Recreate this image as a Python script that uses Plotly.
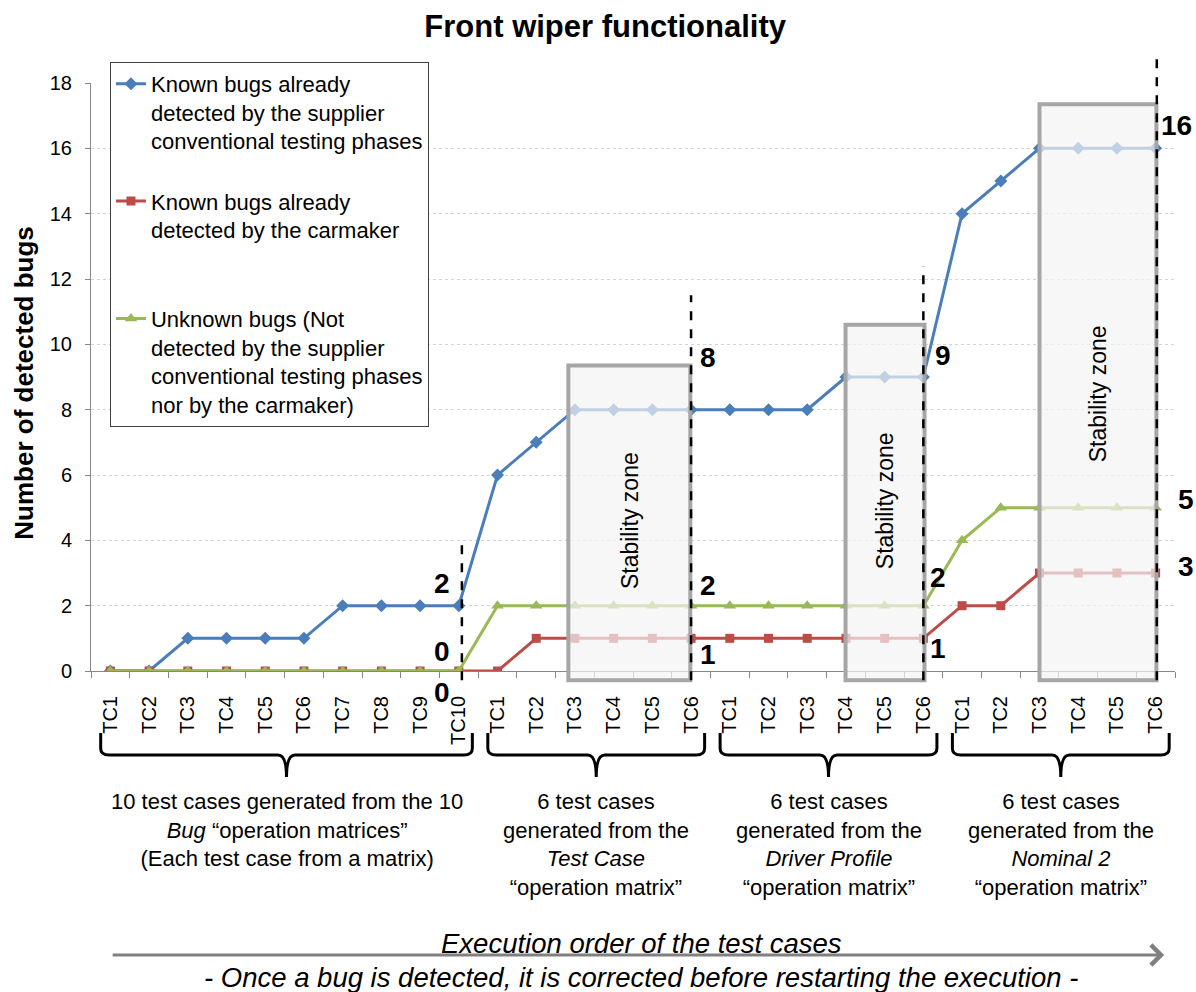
import plotly.graph_objects as go

# ---------------- data ----------------
tick_labels = ["TC1", "TC2", "TC3", "TC4", "TC5", "TC6", "TC7", "TC8", "TC9", "TC10",
               "TC1", "TC2", "TC3", "TC4", "TC5", "TC6",
               "TC1", "TC2", "TC3", "TC4", "TC5", "TC6",
               "TC1", "TC2", "TC3", "TC4", "TC5", "TC6"]
known_supplier = [0, 0, 1, 1, 1, 1, 2, 2, 2, 2,
                  6, 7, 8, 8, 8, 8,
                  8, 8, 8, 9, 9, 9,
                  14, 15, 16, 16, 16, 16]
known_carmaker = [0, 0, 0, 0, 0, 0, 0, 0, 0, 0,
                  0, 1, 1, 1, 1, 1,
                  1, 1, 1, 1, 1, 1,
                  2, 2, 3, 3, 3, 3]
unknown_bugs = [0, 0, 0, 0, 0, 0, 0, 0, 0, 0,
                2, 2, 2, 2, 2, 2,
                2, 2, 2, 2, 2, 2,
                4, 5, 5, 5, 5, 5]
group_sizes = [10, 6, 6, 6]
group_texts = [
    "10 test cases generated from the 10<br><i>Bug</i> \u201coperation matrices\u201d<br>(Each test case from a matrix)",
    "6 test cases<br>generated from the<br><i>Test Case</i><br>\u201coperation matrix\u201d",
    "6 test cases<br>generated from the<br><i>Driver Profile</i><br>\u201coperation matrix\u201d",
    "6 test cases<br>generated from the<br><i>Nominal 2</i><br>\u201coperation matrix\u201d",
]
series_names = [
    "Known bugs already<br>detected by the supplier<br>conventional testing phases<br> ",
    "Known bugs already<br>detected by the carmaker<br> <br> ",
    "Unknown bugs (Not<br>detected by the supplier<br>conventional testing phases<br>nor by the carmaker)",
]

# ---------------- styling ----------------
FONT = "Liberation Sans, Arial, sans-serif"
BLUE = "#4a7ebb"
RED = "#be4b48"
GREEN = "#98b954"
AXIS = "#868686"
YMAX = 18
N = len(tick_labels)

x = list(range(N))

fig = go.Figure()
fig.add_trace(go.Scatter(x=x, y=known_supplier, mode="lines+markers", name=series_names[0],
                         line=dict(color=BLUE, width=3),
                         marker=dict(symbol="diamond", size=10, color=BLUE)))
fig.add_trace(go.Scatter(x=x, y=known_carmaker, mode="lines+markers", name=series_names[1],
                         line=dict(color=RED, width=3),
                         marker=dict(symbol="square", size=9, color=RED)))
fig.add_trace(go.Scatter(x=x, y=unknown_bugs, mode="lines+markers", name=series_names[2],
                         line=dict(color=GREEN, width=3),
                         marker=dict(symbol="triangle-up", size=11, color=GREEN)))


def vp(v):
    """value -> paper y"""
    return v / YMAX


def xp(i):
    """category index -> paper x"""
    return (i + 0.5) / N


shapes = []
annotations = []

# stability zones (x0, x1, top value, text y)
zones = [(11.83, 14.98, 9.35, 4.6), (18.99, 21.03, 10.6, 5.2), (24.0, 27.02, 17.35, 8.5)]
for x0, x1, top, ty in zones:
    shapes.append(dict(type="rect", xref="x", yref="paper", x0=x0, x1=x1,
                       y0=vp(-0.28), y1=vp(top),
                       fillcolor="rgba(243,243,243,0.70)",
                       line=dict(color="#a6a6a6", width=4), layer="above"))
    annotations.append(dict(x=(x0 + x1) / 2, y=ty, xref="x", yref="y", text="Stability zone",
                            textangle=-90, showarrow=False, xanchor="center", yanchor="middle",
                            font=dict(family=FONT, size=23, color="#000")))

# dashed separators at group ends
dash_lines = [(9.08, 4.1), (15.0, 11.5), (21.0, 12.4), (27.03, 18.85)]
for xd, top in dash_lines:
    shapes.append(dict(type="line", xref="x", yref="paper", x0=xd, x1=xd,
                       y0=vp(-0.28), y1=vp(top),
                       line=dict(color="black", width=2.5, dash="dash"), layer="above"))

# braces under groups
ytop, ymid, ytip = -0.1054, -0.1429, -0.1803
d = 0.011
r = 0.22
start = 0
for gi, n in enumerate(group_sizes):
    first, last = start, start + n - 1
    x0 = first - 0.25
    x1 = last + 0.35
    xc = (x0 + x1) / 2
    path = (f"M{x0},{ytop} L{x0},{ymid + d} Q{x0},{ymid} {x0 + r},{ymid} "
            f"L{xc - r},{ymid} Q{xc},{ymid} {xc},{ytip} "
            f"Q{xc},{ymid} {xc + r},{ymid} "
            f"L{x1 - r},{ymid} Q{x1},{ymid} {x1},{ymid + d} L{x1},{ytop}")
    shapes.append(dict(type="path", xref="x", yref="paper", path=path,
                       line=dict(color="black", width=3)))
    annotations.append(dict(x=xc, y=-0.198, xref="x", yref="paper", yanchor="top",
                            xanchor="center",
                            text=group_texts[gi], showarrow=False, align="center",
                            font=dict(family=FONT, size=22, color="#000")))
    start += n

# value labels at group ends: (series, index, dx, dy)
series = [known_supplier, known_carmaker, unknown_bugs]
labels = [
    (0, 9, -0.43, 0.69), (2, 9, -0.43, 0.61), (1, 9, -0.43, -0.67),
    (0, 15, 0.43, 1.6), (2, 15, 0.43, 0.63), (1, 15, 0.43, -0.51),
    (0, 21, 0.5, 0.67), (2, 21, 0.37, 0.85), (1, 21, 0.37, -0.3),
    (0, 27, 0.55, 0.7), (2, 27, 0.78, 0.26), (1, 27, 0.78, 0.2),
]
for si, idx, dx, dy in labels:
    v = series[si][idx]
    annotations.append(dict(x=xp(idx + dx), y=vp(v + dy), xref="paper", yref="paper",
                            xanchor="center", yanchor="middle",
                            text=f"<b>{v}</b>", showarrow=False,
                            font=dict(family=FONT, size=28, color="#000")))

# y axis title
annotations.append(dict(x=-0.062, y=0.49, xref="paper", yref="paper",
                        xanchor="center", yanchor="middle",
                        text="<b>Number of detected bugs</b>", textangle=-90, showarrow=False,
                        font=dict(family=FONT, size=26, color="#000")))

# execution arrow + texts
annotations.append(dict(x=0.99, y=-0.483, xref="paper", yref="paper",
                        ax=-1053, ay=0, axref="pixel", ayref="pixel", text="",
                        showarrow=True, arrowhead=4, arrowsize=1.3, arrowwidth=3,
                        arrowcolor="#808080"))
annotations.append(dict(x=0.5074, y=-0.4626, xref="paper", yref="paper",
                        xanchor="center", yanchor="middle",
                        text="<i>Execution order of the test cases</i>", showarrow=False,
                        font=dict(family=FONT, size=27.5, color="#000")))
annotations.append(dict(x=0.5074, y=-0.521, xref="paper", yref="paper",
                        xanchor="center", yanchor="middle",
                        text="<i>- Once a bug is detected, it is corrected before restarting the execution -</i>",
                        showarrow=False, font=dict(family=FONT, size=27.5, color="#000")))

fig.update_layout(
    width=1196, height=992,
    margin=dict(l=91, r=21, t=83, b=321),
    paper_bgcolor="white", plot_bgcolor="white",
    title=dict(text="<b>Front wiper functionality</b>", x=0.506, xref="container",
               y=0.974, yref="container", xanchor="center", yanchor="middle",
               font=dict(family=FONT, size=31, color="#000")),
    font=dict(family=FONT, color="#000"),
    showlegend=True,
    legend=dict(x=0.0175, y=1.036, xanchor="left", yanchor="top",
                bgcolor="white", bordercolor="#404040", borderwidth=1,
                font=dict(family=FONT, size=22, color="#000"), valign="top",
                itemwidth=30, tracegroupgap=0),
    shapes=shapes,
    annotations=annotations,
)
fig.update_xaxes(
    range=[-0.5, N - 0.5], tickmode="array", tickvals=x, ticktext=tick_labels,
    tickangle=-90, ticks="", showgrid=False, zeroline=False,
    showline=True, linecolor=AXIS, linewidth=1,
    tickfont=dict(family=FONT, size=20, color="#000"), ticklabelstandoff=16,
    minor=dict(tickmode="array", tickvals=[i - 0.5 for i in range(N + 1)],
               ticks="outside", ticklen=6, tickcolor=AXIS, showgrid=False),
)
fig.update_yaxes(
    range=[0, YMAX], tickmode="linear", tick0=0, dtick=2,
    ticks="outside", ticklen=5, tickcolor=AXIS, ticklabelstandoff=9,
    showline=True, linecolor=AXIS, linewidth=1, zeroline=False,
    showgrid=True, gridcolor="#d4d4d4", griddash="dot", gridwidth=1,
    tickfont=dict(family=FONT, size=20, color="#000"),
)

fig.write_html("out.html", config={"displayModeBar": False},
               post_script="document.body.style.margin='0';document.body.style.overflow='hidden';")
